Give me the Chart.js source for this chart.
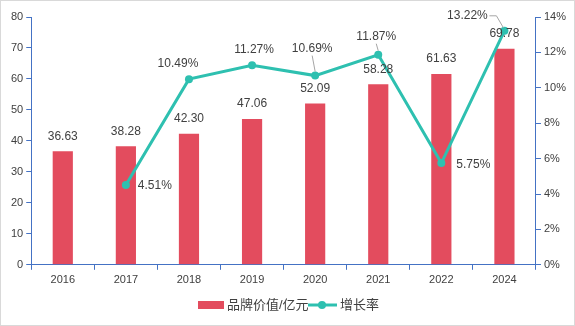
<!DOCTYPE html>
<html>
<head>
<meta charset="utf-8">
<script src="https://cdn.jsdelivr.net/npm/chart.js@4/dist/chart.umd.min.js"></script>
<style>
    html, body { margin: 0; padding: 0; background: #fff; }
    #wrap { width: 575px; height: 326px; position: relative; }
</style>
</head>
<body>
<div id="wrap"><canvas id="comboChart" width="575" height="326"></canvas></div>
<script>
const years = ['2016', '2017', '2018', '2019', '2020', '2021', '2022', '2024'];
const brandValue = [36.63, 38.28, 42.30, 47.06, 52.09, 58.28, 61.63, 69.78];
const growthRate = [null, 4.51, 10.49, 11.27, 10.69, 11.87, 5.75, 13.22];
const valueTicks = [0, 10, 20, 30, 40, 50, 60, 70, 80];
const rateTicks = [0, 2, 4, 6, 8, 10, 12, 14];

const barColor = '#E34C5E';
const lineColor = '#2EC0B0';
const axisColor = '#4472C4';
const textColor = '#404040';
const fontFamily = "'Liberation Sans', 'Noto Sans CJK SC', sans-serif";

// label offsets for the growth labels (dx, dy from the point, in px)
const rateLabelOffsets = [null, [29, 1], [-11, -15], [2, -16], [-3, -27], [-2, -18], [32, 2], [-37, -15]];

const labelPlugin = {
    id: 'labels',
    beforeDraw(chart) {
        const c = chart.ctx;
        c.save();
        c.fillStyle = '#fff';
        c.fillRect(0, 0, chart.width, chart.height);
        c.strokeStyle = '#D9D9D9';
        c.lineWidth = 1;
        c.strokeRect(0.5, 0.5, chart.width - 1, chart.height - 1);
        c.restore();
    },
    afterDatasetsDraw(chart) {
        const c = chart.ctx;
        c.save();
        c.font = '12px ' + fontFamily;
        c.fillStyle = textColor;
        c.textAlign = 'center';
        c.textBaseline = 'middle';

        // bar values
        chart.getDatasetMeta(0).data.forEach(function(bar, i) {
            c.fillText(brandValue[i].toFixed(2), bar.x, bar.y - 15);
        });

        // growth labels + leader lines
        const pts = chart.getDatasetMeta(1).data;
        c.strokeStyle = '#A6A6A6';
        c.lineWidth = 1;
        pts.forEach(function(p, i) {
            if (growthRate[i] === null) return;
            const off = rateLabelOffsets[i];
            const lx = p.x + off[0];
            const ly = p.y + off[1];
            if (i === 4 || i === 5) {
                c.beginPath();
                c.moveTo(lx, ly + 7);
                c.lineTo(p.x, p.y - 4);
                c.stroke();
            }
            if (i === 7) {
                c.beginPath();
                c.moveTo(lx + 22, ly);
                c.lineTo(lx + 29, ly);
                c.lineTo(p.x - 1, p.y - 3);
                c.stroke();
            }
            c.fillText(growthRate[i].toFixed(2) + '%', lx, ly);
        });

        // legend
        const ly = 305;
        c.textAlign = 'left';
        c.font = '13px ' + fontFamily;
        c.fillStyle = barColor;
        c.fillRect(198, ly - 4, 26, 8);
        c.fillStyle = textColor;
        c.fillText('品牌价值/亿元', 227, ly);
        c.strokeStyle = lineColor;
        c.lineWidth = 3;
        c.beginPath();
        c.moveTo(308, ly);
        c.lineTo(337, ly);
        c.stroke();
        c.fillStyle = lineColor;
        c.beginPath();
        c.arc(322, ly, 4, 0, Math.PI * 2);
        c.fill();
        c.fillStyle = textColor;
        c.fillText('增长率', 340, ly);
        c.restore();
    }
};

document.addEventListener('DOMContentLoaded', function() {
    const ctx = document.getElementById('comboChart').getContext('2d');

    new Chart(ctx, {
        type: 'bar',
        data: {
            labels: years,
            datasets: [{
                type: 'bar',
                label: '品牌价值/亿元',
                data: brandValue,
                backgroundColor: barColor,
                barPercentage: 0.32,
                categoryPercentage: 1,
                yAxisID: 'y',
                order: 2
            }, {
                type: 'line',
                label: '增长率',
                data: growthRate,
                borderColor: lineColor,
                backgroundColor: lineColor,
                borderWidth: 3,
                pointRadius: 4,
                pointBackgroundColor: lineColor,
                pointBorderWidth: 0,
                tension: 0,
                yAxisID: 'y1',
                order: 1
            }]
        },
        options: {
            responsive: false,
            animation: false,
            layout: { padding: { left: 8, right: 6, top: 17, bottom: 35 } },
            plugins: {
                legend: { display: false },
                tooltip: { enabled: false }
            },
            scales: {
                x: {
                    offset: true,
                    grid: {
                        offset: true,
                        drawOnChartArea: false,
                        color: axisColor,
                        tickLength: 5
                    },
                    border: { color: axisColor },
                    ticks: {
                        color: textColor,
                        font: { family: fontFamily, size: 11 },
                        padding: 4
                    }
                },
                y: {
                    position: 'left',
                    min: 0,
                    max: valueTicks[valueTicks.length - 1],
                    afterBuildTicks(axis) {
                        axis.ticks = valueTicks.map(function(v) { return { value: v }; });
                    },
                    grid: {
                        drawOnChartArea: false,
                        color: axisColor,
                        tickLength: 5
                    },
                    border: { color: axisColor },
                    ticks: {
                        color: textColor,
                        font: { family: fontFamily, size: 11 },
                        padding: 3
                    }
                },
                y1: {
                    position: 'right',
                    min: 0,
                    max: rateTicks[rateTicks.length - 1],
                    afterBuildTicks(axis) {
                        axis.ticks = rateTicks.map(function(v) { return { value: v }; });
                    },
                    grid: {
                        drawOnChartArea: false,
                        color: axisColor,
                        tickLength: 5
                    },
                    border: { color: axisColor },
                    ticks: {
                        color: textColor,
                        font: { family: fontFamily, size: 11 },
                        padding: 3,
                        callback: function(v) { return v + '%'; }
                    }
                }
            }
        },
        plugins: [labelPlugin]
    });
});
</script>
</body>
</html>
